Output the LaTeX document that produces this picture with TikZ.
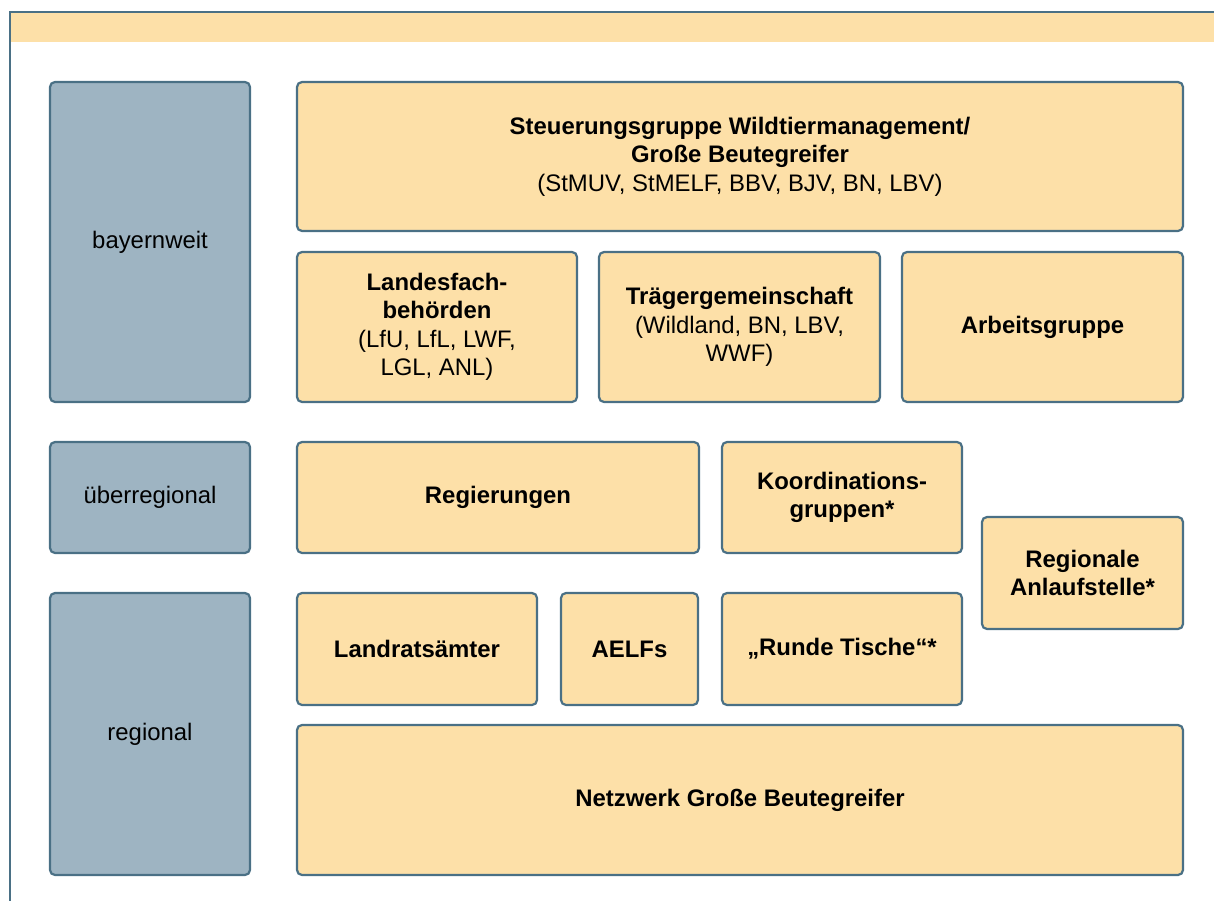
\documentclass[tikz,border=0pt]{standalone}
\usepackage{fontspec}
\setmainfont{Liberation Sans}
\definecolor{frameblue}{RGB}{74,112,133}
\definecolor{boxorange}{RGB}{253,224,168}
\definecolor{levelgray}{RGB}{158,180,194}
\begin{document}
\begin{tikzpicture}[
        x=1pt, y=-1pt,
        box/.style={rectangle, draw=frameblue, fill=boxorange, line width=2.2pt, rounded corners=5pt,
            inner sep=0pt, align=center, font=\fontsize{23.9}{28.5}\selectfont},
        level/.style={box, fill=levelgray}
    ]
    \useasboundingbox (0,0) rectangle (1214,901);

    % Frame and top band
    \fill[boxorange] (11,13) rectangle (1216,42);
    \draw[frameblue, line width=2pt] (10,905) -- (10,12) -- (1218,12);

    % Define levels
    \node[level, minimum width=200pt, minimum height=320pt] (bayern) at (150,242) {bayernweit};
    \node[level, minimum width=200pt, minimum height=111pt] (ueber) at (150,497.5) {überregional};
    \node[level, minimum width=200pt, minimum height=282pt] (regional) at (150,734) {regional};

    % bayernweit
    \node[box, minimum width=886pt, minimum height=149pt] (steuer) at (740,156.5)
        {{\bfseries Steuerungsgruppe Wildtiermanagement/}\\{\bfseries Große Beutegreifer}\\(StMUV, StMELF, BBV, BJV, BN, LBV)};
    \node[box, minimum width=280pt, minimum height=150pt] (landesfach) at (437,327)
        {{\bfseries Landesfach-}\\{\bfseries behörden}\\(LfU, LfL, LWF,\\LGL, ANL)};
    \node[box, minimum width=281pt, minimum height=150pt] (traeger) at (739.5,327)
        {{\bfseries Trägergemeinschaft}\\(Wildland, BN, LBV,\\WWF)};
    \node[box, minimum width=281pt, minimum height=150pt] (arbeit) at (1042.5,327)
        {\bfseries Arbeitsgruppe};

    % ueberregional
    \node[box, minimum width=402pt, minimum height=111pt] (regierung) at (498,497.5)
        {\bfseries Regierungen};
    \node[box, minimum width=240pt, minimum height=111pt] (koord) at (842,497.5)
        {{\bfseries Koordinations-}\\{\bfseries gruppen*}};
    \node[box, minimum width=201pt, minimum height=112pt] (anlauf) at (1082.5,573)
        {{\bfseries Regionale}\\{\bfseries Anlaufstelle*}};

    % regional
    \node[box, minimum width=240pt, minimum height=112pt] (landrat) at (417,649)
        {\bfseries Landratsämter};
    \node[box, minimum width=137pt, minimum height=112pt] (aelf) at (629.5,649)
        {\bfseries AELFs};
    \node[box, minimum width=240pt, minimum height=112pt] (runde) at (842,649)
        {\bfseries „Runde Tische“*};
    \node[box, minimum width=886pt, minimum height=150pt] (netzwerk) at (740,800)
        {\bfseries Netzwerk Große Beutegreifer};

    \end{tikzpicture}
\end{document}
